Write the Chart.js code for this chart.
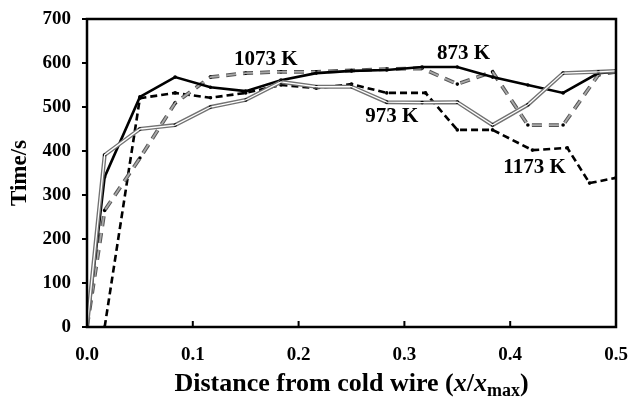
<!DOCTYPE html>
<html><head><meta charset="utf-8">
<script src="https://cdn.jsdelivr.net/npm/chart.js@4/dist/chart.umd.min.js"></script>
<style>html,body{margin:0;padding:0;background:#fff}#wrap{width:632px;height:400px}</style>
</head><body><div id="wrap"><canvas id="c" width="632" height="400"></canvas></div>
<script>
// x positions (x/xmax) shared by 873, 973, 1073 K
const xGrid = [0, 0.0167, 0.05, 0.0833, 0.1167, 0.15, 0.1833, 0.2167, 0.25, 0.2833, 0.3167, 0.35, 0.3833, 0.4167, 0.45, 0.4833, 0.5];
const t873  = [0, 341, 523, 568, 545, 536, 561, 577, 582, 584, 591, 591, 568, 550, 532, 577, 580];
const t973  = [0, 391, 450, 459, 500, 516, 557, 546, 546, 511, 510, 511, 459, 505, 577, 580, 582];
const t1073 = [0, 265, 384, 509, 568, 577, 580, 580, 583, 586, 588, 552, 580, 459, 459, 573, 580];
const x1173 = [0.0167, 0.05, 0.0833, 0.1167, 0.15, 0.1833, 0.2167, 0.25, 0.2833, 0.32, 0.35, 0.3833, 0.421, 0.454, 0.475, 0.5];
const t1173 = [0, 520, 532, 521, 532, 550, 543, 552, 532, 532, 448, 448, 402, 407, 327, 339];
const xTicks = [0, 0.1, 0.2, 0.3, 0.4, 0.5];
const yTicks = [0, 100, 200, 300, 400, 500, 600, 700];
const seriesLabels = [
  {text: '1073 K', x: 0.169, y: 608},
  {text: '873 K',  x: 0.356, y: 621},
  {text: '973 K',  x: 0.288, y: 479},
  {text: '1173 K', x: 0.423, y: 362}
];

const pts = (xs, ys) => xs.map((v, i) => ({x: v, y: ys[i]}));
const SERIF = '"Liberation Serif", "Times New Roman", serif';

const deco = {
  id: 'deco',
  afterDraw(chart) {
    const {ctx, chartArea: a, scales: {x, y}} = chart;
    ctx.save();
    ctx.strokeStyle = '#000';
    ctx.lineWidth = 2.5;
    ctx.strokeRect(a.left, a.top, a.right - a.left, a.bottom - a.top);
    ctx.lineWidth = 2;
    ctx.beginPath();
    xTicks.forEach(v => { const p = x.getPixelForValue(v); ctx.moveTo(p, a.bottom); ctx.lineTo(p, a.bottom - 6); });
    yTicks.forEach(v => { const p = y.getPixelForValue(v); ctx.moveTo(a.left - 5, p); ctx.lineTo(a.left, p); });
    ctx.stroke();
    // series labels
    ctx.fillStyle = '#000';
    ctx.font = 'bold 21px ' + SERIF;
    ctx.textAlign = 'center';
    ctx.textBaseline = 'middle';
    seriesLabels.forEach(l => ctx.fillText(l.text, x.getPixelForValue(l.x), y.getPixelForValue(l.y)));
    // x title with italic x and subscript
    const B = 'bold 26px ' + SERIF, I = 'italic bold 26px ' + SERIF, S = 'bold 18px ' + SERIF;
    const parts = [
      {t: 'Distance from cold wire (', f: B, dy: 0},
      {t: 'x', f: I, dy: 0}, {t: '/', f: B, dy: 0}, {t: 'x', f: I, dy: 0},
      {t: 'max', f: S, dy: 5}, {t: ')', f: B, dy: 0}
    ];
    let w = 0;
    parts.forEach(p => { ctx.font = p.f; p.w = ctx.measureText(p.t).width; w += p.w; });
    let cx = (a.left + a.right) / 2 - w / 2;
    ctx.textAlign = 'left';
    ctx.textBaseline = 'alphabetic';
    parts.forEach(p => { ctx.font = p.f; ctx.fillText(p.t, cx, 391 + p.dy); cx += p.w; });
    ctx.restore();
  }
};

new Chart(document.getElementById('c'), {
  type: 'line',
  data: {
    datasets: [
      {label: '973 K inner', data: pts(xGrid, t973), borderColor: '#ffffff', borderWidth: 1.3, pointRadius: 0, order: 1},
      {label: '973 K', data: pts(xGrid, t973), borderColor: '#727272', borderWidth: 4, pointRadius: 1.8, pointBackgroundColor: '#000', pointBorderWidth: 0, order: 2},
      {label: '873 K', data: pts(xGrid, t873), borderColor: '#000', borderWidth: 2.6, pointRadius: 1.8, pointBackgroundColor: '#000', pointBorderWidth: 0, order: 3},
      {label: '1073 K inner', data: pts(xGrid, t1073), borderColor: '#a8a8a8', borderWidth: 1.8, borderDash: [10, 7], pointRadius: 0, order: 4},
      {label: '1073 K', data: pts(xGrid, t1073), borderColor: '#555', borderWidth: 3.8, borderDash: [10, 7], pointRadius: 1.8, pointBackgroundColor: '#000', pointBorderWidth: 0, order: 5},
      {label: '1173 K', data: pts(x1173, t1173), borderColor: '#000', borderWidth: 2.6, borderDash: [7, 4], pointRadius: 1.8, pointBackgroundColor: '#000', pointBorderWidth: 0, order: 6}
    ]
  },
  options: {
    responsive: false,
    animation: false,
    layout: {padding: {left: 0, top: 19, right: 16, bottom: 0}},
    plugins: {legend: {display: false}, tooltip: {enabled: false}},
    elements: {line: {tension: 0}},
    scales: {
      x: {
        type: 'linear', min: 0, max: 0.5,
        afterBuildTicks: s => { s.ticks = xTicks.map(v => ({value: v})); },
        afterFit: s => { s.height = 73; s.paddingLeft = 0; s.paddingRight = 0; },
        grid: {display: false, drawTicks: false},
        border: {display: false},
        ticks: {color: '#000', padding: 17, font: {family: SERIF, size: 19, weight: 'bold'}, callback: v => v.toFixed(1)}
      },
      y: {
        type: 'linear', min: 0, max: 700,
        afterBuildTicks: s => { s.ticks = yTicks.map(v => ({value: v})); },
        afterFit: s => { s.width = 87; s.paddingTop = 0; s.paddingBottom = 0; },
        grid: {display: false, drawTicks: false},
        border: {display: false},
        ticks: {color: '#000', padding: 16, font: {family: SERIF, size: 19, weight: 'bold'}},
        title: {display: true, text: 'Time/s', color: '#000', padding: {top: 6, bottom: 0}, font: {family: SERIF, size: 23, weight: 'bold'}}
      }
    }
  },
  plugins: [deco]
});
</script></body></html>
